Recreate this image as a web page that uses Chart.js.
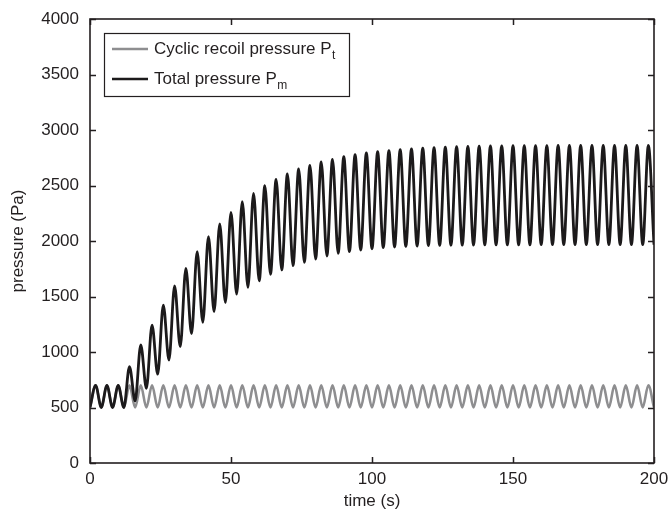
<!DOCTYPE html>
<html>
<head>
<meta charset="utf-8">
<title>pressure vs time</title>
<script src="https://cdn.jsdelivr.net/npm/chart.js@4/dist/chart.umd.min.js"></script>
<style>
  html, body { margin: 0; padding: 0; background: #fff; }
  #wrap { width: 670px; height: 521px; position: relative; }
</style>
</head>
<body>
<div id="wrap"><canvas id="myChart"></canvas></div>
<script>
// extremum times (s): peaks and troughs every 2 s
const times = [
  0, 2, 4, 6, 8, 10, 12, 14, 16, 18, 20, 22, 24, 26, 28, 30, 32, 34, 36, 38,
  40, 42, 44, 46, 48, 50, 52, 54, 56, 58, 60, 62, 64, 66, 68, 70, 72, 74, 76, 78,
  80, 82, 84, 86, 88, 90, 92, 94, 96, 98, 100, 102, 104, 106, 108, 110, 112, 114, 116, 118,
  120, 122, 124, 126, 128, 130, 132, 134, 136, 138, 140, 142, 144, 146, 148, 150, 152, 154, 156, 158,
  160, 162, 164, 166, 168, 170, 172, 174, 176, 178, 180, 182, 184, 186, 188, 190, 192, 194, 196, 198,
  200
];

// cyclic recoil pressure Pt (Pa)
const recoil = [
  500, 700, 500, 700, 500, 700, 500, 700, 500, 700, 500, 700, 500, 700, 500, 700, 500, 700, 500, 700,
  500, 700, 500, 700, 500, 700, 500, 700, 500, 700, 500, 700, 500, 700, 500, 700, 500, 700, 500, 700,
  500, 700, 500, 700, 500, 700, 500, 700, 500, 700, 500, 700, 500, 700, 500, 700, 500, 700, 500, 700,
  500, 700, 500, 700, 500, 700, 500, 700, 500, 700, 500, 700, 500, 700, 500, 700, 500, 700, 500, 700,
  500, 700, 500, 700, 500, 700, 500, 700, 500, 700, 500, 700, 500, 700, 500, 700, 500, 700, 500, 700,
  500
];

// total pressure Pm (Pa)
const total = [
  500, 700, 500, 700, 500, 700, 500, 868, 560, 1063, 673, 1243, 800, 1423, 928, 1595, 1048, 1754, 1165, 1904,
  1268, 2039, 1363, 2153, 1447, 2258, 1522, 2354, 1583, 2429, 1640, 2498, 1700, 2555, 1739, 2604, 1778, 2649, 1808, 2682,
  1838, 2712, 1865, 2736, 1889, 2760, 1904, 2778, 1919, 2793, 1930, 2805, 1940, 2814, 1946, 2823, 1951, 2830, 1955, 2836,
  1958, 2841, 1960, 2845, 1962, 2849, 1963, 2852, 1964, 2854, 1965, 2856, 1965, 2857, 1966, 2858, 1966, 2859, 1966, 2860,
  1967, 2860, 1967, 2861, 1967, 2861, 1967, 2861, 1967, 2862, 1967, 2862, 1967, 2862, 1967, 2862, 1967, 2862, 1967, 2862,
  1967
];

const xTicks = [0, 50, 100, 150, 200];
const yTicks = [0, 500, 1000, 1500, 2000, 2500, 3000, 3500, 4000];

const FONT = "'Liberation Sans', Arial, Helvetica, sans-serif";
const TEXT = "#231f20";
const GRAY = "#8e8e90";
const BLACK = "#1c1a1b";

function toPoints(ys) {
    return times.map((t, i) => ({ x: t, y: ys[i] }));
}

// box around the plot, inward ticks on all four sides, and the legend
const framePlugin = {
    id: "frame",
    afterDraw(chart) {
        const ctx = chart.ctx;
        const a = chart.chartArea;
        const xs = chart.scales.x;
        const ys = chart.scales.y;
        const tl = 6;
        ctx.save();
        ctx.strokeStyle = TEXT;
        ctx.lineWidth = 1.5;
        ctx.beginPath();
        xTicks.forEach(v => {
            const px = Math.round(xs.getPixelForValue(v)) + 0.5;
            ctx.moveTo(px, a.bottom); ctx.lineTo(px, a.bottom - tl);
            ctx.moveTo(px, a.top); ctx.lineTo(px, a.top + tl);
        });
        yTicks.forEach(v => {
            const py = Math.round(ys.getPixelForValue(v)) + 0.5;
            ctx.moveTo(a.left, py); ctx.lineTo(a.left + tl, py);
            ctx.moveTo(a.right, py); ctx.lineTo(a.right - tl, py);
        });
        ctx.stroke();
        ctx.lineWidth = 1.6;
        ctx.strokeRect(a.left, a.top, a.right - a.left, a.bottom - a.top);

        // legend
        const lx = 104, ly = 33, lw = 245, lh = 63;
        ctx.fillStyle = "#fff";
        ctx.fillRect(lx, ly, lw, lh);
        ctx.lineWidth = 1.2;
        ctx.strokeStyle = TEXT;
        ctx.strokeRect(lx + 0.5, ly + 0.5, lw, lh);

        const rows = [
            { color: GRAY, main: "Cyclic recoil pressure P", sub: "t", y: 49 },
            { color: BLACK, main: "Total pressure P", sub: "m", y: 79 }
        ];
        rows.forEach(r => {
            ctx.strokeStyle = r.color;
            ctx.lineWidth = 2.5;
            ctx.beginPath();
            ctx.moveTo(112, r.y);
            ctx.lineTo(148, r.y);
            ctx.stroke();
            ctx.fillStyle = TEXT;
            ctx.textBaseline = "middle";
            ctx.textAlign = "left";
            ctx.font = "17px " + FONT;
            ctx.fillText(r.main, 154, r.y);
            const w = ctx.measureText(r.main).width;
            ctx.font = "12px " + FONT;
            ctx.fillText(r.sub, 154 + w + 0.5, r.y + 7);
        });
        ctx.restore();
    }
};

const ctx = document.getElementById("myChart");

new Chart(ctx, {
    type: "line",
    data: {
        datasets: [
            {
                label: "Total pressure Pm",
                data: toPoints(total),
                borderColor: BLACK,
                borderWidth: 2.8,
                pointRadius: 0,
                cubicInterpolationMode: "monotone",
                fill: false
            },
            {
                label: "Cyclic recoil pressure Pt",
                data: toPoints(recoil),
                borderColor: GRAY,
                borderWidth: 2.6,
                pointRadius: 0,
                cubicInterpolationMode: "monotone",
                fill: false
            }
        ]
    },
    options: {
        responsive: true,
        maintainAspectRatio: false,
        animation: false,
        layout: { padding: { top: 19, right: 16, left: 0, bottom: 0 } },
        plugins: {
            legend: { display: false },
            tooltip: { enabled: false }
        },
        scales: {
            x: {
                type: "linear",
                min: 0,
                max: 200,
                afterBuildTicks(scale) { scale.ticks = xTicks.map(v => ({ value: v })); },
                afterFit(scale) {
                    scale.height = 58;
                    scale.paddingLeft = 0;
                    scale.paddingRight = 0;
                },
                grid: { display: false, drawTicks: false },
                border: { display: false },
                ticks: {
                    color: TEXT,
                    font: { family: FONT, size: 17 },
                    padding: 6,
                    maxRotation: 0,
                    callback: v => String(v)
                },
                title: {
                    display: true,
                    text: "time (s)",
                    color: TEXT,
                    font: { family: FONT, size: 17 },
                    padding: { top: 0, bottom: 9 }
                }
            },
            y: {
                min: 0,
                max: 4000,
                afterBuildTicks(scale) { scale.ticks = yTicks.map(v => ({ value: v })); },
                afterFit(scale) {
                    scale.width = 90;
                    scale.paddingTop = 0;
                    scale.paddingBottom = 0;
                },
                grid: { display: false, drawTicks: false },
                border: { display: false },
                ticks: {
                    color: TEXT,
                    font: { family: FONT, size: 17 },
                    padding: 11,
                    callback: v => String(v)
                },
                title: {
                    display: true,
                    text: "pressure (Pa)",
                    color: TEXT,
                    font: { family: FONT, size: 17 },
                    padding: { top: 8, bottom: 0 }
                }
            }
        }
    },
    plugins: [framePlugin]
});
</script>
</body>
</html>
